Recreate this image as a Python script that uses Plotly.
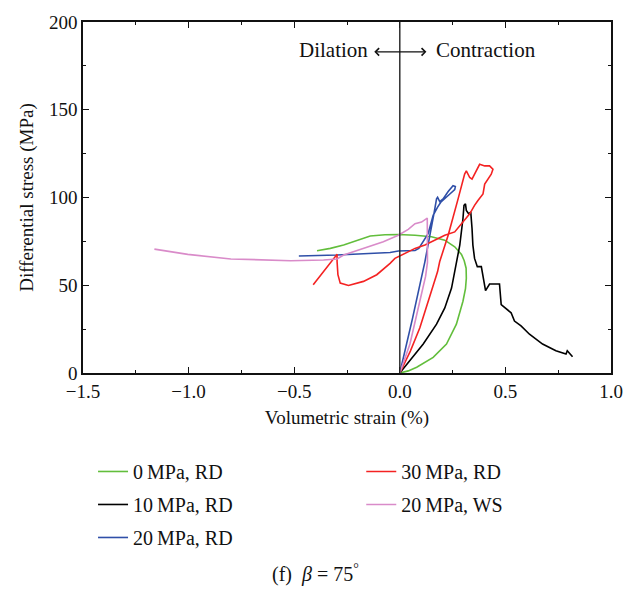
import plotly.graph_objects as go

# ---------------- data (volumetric strain %, differential stress MPa) ----------------
green_x = [0.0, 0.04, 0.08, 0.158, 0.221, 0.268, 0.299, 0.311, 0.315, 0.314, 0.305, 0.292, 0.260,
           0.213, 0.150, 0.072, -0.007, -0.070, -0.140, -0.203, -0.266, -0.329, -0.392]
green_y = [0.0, 1.2, 3.3, 8.9, 16.5, 27.8, 40.9, 48.0, 54.0, 59.7, 64.0, 67.6, 71.9,
           75.7, 77.6, 78.5, 78.9, 78.8, 78.1, 75.7, 72.9, 71.0, 69.7]

black_x = [0.0, 0.048, 0.111, 0.174, 0.213, 0.245, 0.268, 0.284, 0.299, 0.304, 0.311, 0.315,
           0.326, 0.336, 0.342, 0.346, 0.354, 0.367, 0.386, 0.406, 0.425, 0.472, 0.480,
           0.511, 0.527, 0.543, 0.574, 0.614, 0.676, 0.739, 0.787, 0.793, 0.818]
black_y = [0.0, 7.1, 16.5, 27.8, 37.1, 48.4, 63.5, 72.9, 87.9, 95.5, 96.4, 92.6,
           90.7, 91.7, 82.3, 72.9, 65.3, 60.6, 60.6, 46.9, 50.7, 50.7, 39.0,
           36.2, 34.3, 29.6, 26.8, 22.1, 16.5, 12.7, 10.8, 12.7, 9.3]

blue_x = [0.0, 0.06, 0.119, 0.150, 0.163, 0.174, 0.179, 0.189, 0.205, 0.229, 0.252, 0.263,
          0.260, 0.237, 0.213, 0.194, 0.179, 0.158, 0.134, 0.111, 0.090, 0.072,
          -0.007, -0.046, -0.125, -0.297, -0.478]
blue_y = [0.0, 31.0, 63.5, 82.3, 91.7, 99.2, 100.1, 97.7, 99.2, 103.4, 106.7, 106.2,
          104.5, 102.0, 99.6, 97.3, 94.5, 89.8, 79.4, 74.8, 71.0, 69.8,
          69.5, 68.7, 68.2, 67.2, 66.7]

red_x = [0.0, 0.05, 0.095, 0.179, 0.189, 0.229, 0.276, 0.307, 0.315, 0.331, 0.342, 0.362,
         0.378, 0.402, 0.425, 0.441, 0.433, 0.402, 0.394, 0.370, 0.354, 0.331, 0.299,
         0.260, 0.213, 0.166, 0.119, 0.072, 0.025, -0.007, -0.023, -0.046, -0.109,
         -0.172, -0.243, -0.282, -0.293, -0.297, -0.297, -0.410]
red_y = [0.0, 12.5, 25.8, 57.8, 63.5, 78.5, 99.2, 113.3, 115.2, 111.4, 110.5, 115.2,
         118.9, 118.0, 118.0, 116.1, 113.3, 107.6, 102.0, 98.3, 95.5, 90.7, 86.0,
         80.4, 78.5, 75.7, 72.9, 71.0, 68.2, 66.3, 65.3, 62.5, 56.0,
         52.2, 49.9, 51.2, 56.0, 63.5, 67.6, 50.3]

pink_x = [0.0, 0.048, 0.095, 0.122, 0.131, 0.132, 0.130, 0.103, 0.072, 0.040, -0.007,
          -0.078, -0.148, -0.219, -0.266, -0.297, -0.361, -0.517, -0.565, -0.800,
          -1.004, -1.162]
pink_y = [0.0, 16.5, 41.0, 55.0, 63.0, 75.0, 88.3, 86.0, 85.1, 81.8, 78.5,
          74.8, 71.9, 69.1, 67.2, 65.0, 64.4, 64.0, 64.2, 65.0,
          67.6, 70.6]

series = [
    ("0\u2009MPa, RD", green_x, green_y, "#62BE3C", "legend"),
    ("10\u2009MPa, RD", black_x, black_y, "#000000", "legend"),
    ("20\u2009MPa, RD", blue_x, blue_y, "#2F4FA8", "legend"),
    ("30\u2009MPa, RD", red_x, red_y, "#F42222", "legend2"),
    ("20\u2009MPa, WS", pink_x, pink_y, "#D98BC9", "legend2"),
]

x_ticks = [-1.5, -1.0, -0.5, 0.0, 0.5, 1.0]
y_ticks = [0, 50, 100, 150, 200]

FONT = "Liberation Serif"
INK = "#111111"

fig = go.Figure()
for i, (name, xs, ys, col, lg) in enumerate(series):
    fig.add_trace(go.Scatter(x=xs, y=ys, mode="lines", name=name,
                             line=dict(color=col, width=1.6),
                             legend=lg, legendgroup=f"g{i}"))

fig.add_vline(x=0, line=dict(color="#222222", width=1.4))

# Dilation <-> Contraction annotation
fig.add_annotation(x=0.126, y=183, ax=-0.128, ay=183, xref="x", yref="y", axref="x", ayref="y",
                   text="", showarrow=True, arrowhead=4, startarrowhead=4, arrowside="end+start",
                   arrowsize=1.3, startarrowsize=1.3, arrowwidth=1.1, arrowcolor=INK)
fig.add_annotation(x=-0.143, y=184, xref="x", yref="y", text="Dilation", showarrow=False,
                   xanchor="right", yanchor="middle", font=dict(family=FONT, size=21, color=INK))
fig.add_annotation(x=0.164, y=184, xref="x", yref="y", text="Contraction", showarrow=False,
                   xanchor="left", yanchor="middle", font=dict(family=FONT, size=21, color=INK))

# caption
fig.add_annotation(x=0.441, y=-0.572, xref="paper", yref="paper", xanchor="center", yanchor="middle",
                   text="(f)  <i>β</i> = 75<sup>°</sup>", showarrow=False,
                   font=dict(family=FONT, size=20, color=INK))

axis_common = dict(showline=True, linecolor=INK, linewidth=1.5, mirror="ticks",
                   ticks="inside", ticklen=6, tickwidth=1.2, tickcolor=INK,
                   showgrid=False, zeroline=False,
                   tickfont=dict(family=FONT, size=19, color=INK),
                   title_font=dict(family=FONT, size=19, color=INK))

fig.update_xaxes(range=[-1.5, 1.0], tickvals=x_ticks, tickformat=".1f",
                 minor=dict(dtick=0.25, ticks="inside", ticklen=3, tickcolor=INK),
                 title_text="Volumetric strain (%)", title_standoff=10, **axis_common)
fig.update_yaxes(range=[0, 200], tickvals=y_ticks,
                 minor=dict(dtick=25, ticks="inside", ticklen=3, tickcolor=INK),
                 title_text="Differential stress (MPa)", title_standoff=10, **axis_common)

legend_font = dict(family=FONT, size=20, color=INK)
fig.update_layout(
    width=635, height=590,
    margin=dict(l=83, r=23, t=20, b=217),
    paper_bgcolor="white", plot_bgcolor="white",
    legend=dict(x=0.019, y=-0.225, xanchor="left", yanchor="top", orientation="v",
                font=legend_font, tracegroupgap=4, bgcolor="rgba(0,0,0,0)"),
    legend2=dict(x=0.527, y=-0.225, xanchor="left", yanchor="top", orientation="v",
                 font=legend_font, tracegroupgap=4, bgcolor="rgba(0,0,0,0)"),
)

fig.write_html("out.html")
